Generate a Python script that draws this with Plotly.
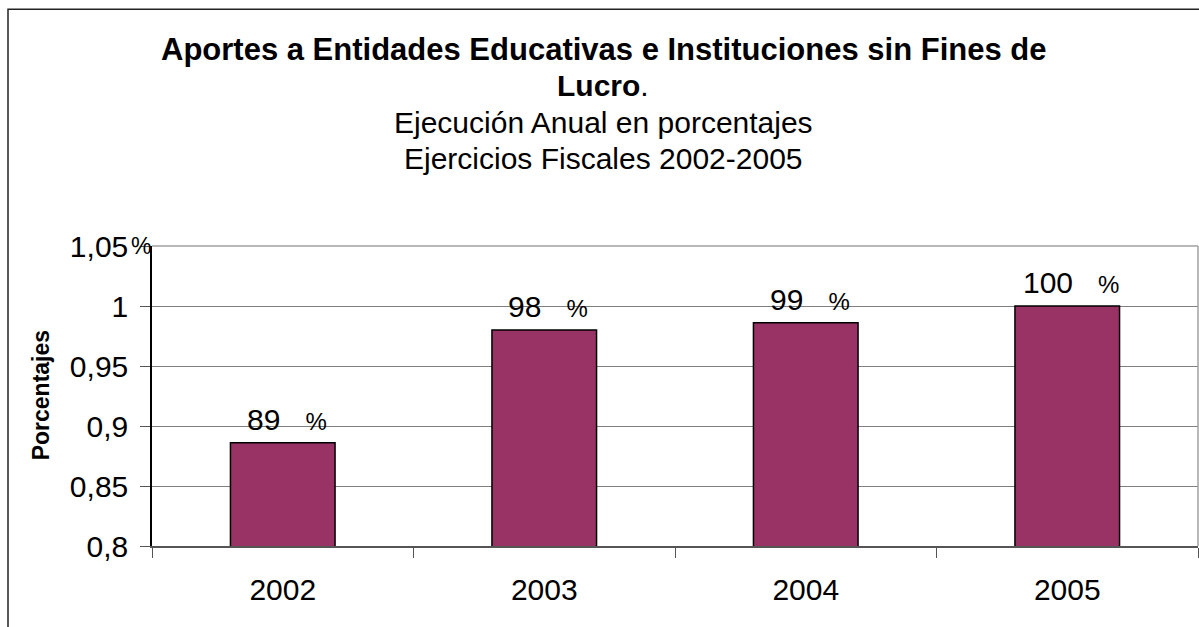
import plotly.graph_objects as go

# Ejecución anual (fracción del crédito ejecutado) por ejercicio fiscal
years = ["2002", "2003", "2004", "2005"]
execution = [0.886, 0.980, 0.986, 1.000]

y_ticks = [0.80, 0.85, 0.90, 0.95, 1.00, 1.05]
y_tick_labels = ["0,8", "0,85", "0,9", "0,95", "1", "1,05"]

title_lines = [
    "<b>Aportes a Entidades Educativas e Instituciones sin Fines de</b>",
    "<b>Lucro</b>.",
    "Ejecución Anual en porcentajes",
    "Ejercicios Fiscales 2002-2005",
]

FONT = "Liberation Sans, Arial, sans-serif"
BAR_COLOR = "#993366"
FS = 30

# Plot area in pixels: left edge 152, bottom 546, height 300
PLOT_LEFT, PLOT_W, PLOT_BOTTOM, PLOT_H = 152, 1046, 545.7, 300


def px_x(px):
    return (px - PLOT_LEFT) / PLOT_W


def px_y(py):
    return (PLOT_BOTTOM - py) / PLOT_H


fig = go.Figure(
    go.Bar(
        x=years,
        y=execution,
        width=0.4,
        marker=dict(color=BAR_COLOR, line=dict(color="#000000", width=1.5)),
        hoverinfo="skip",
    )
)

annotations = []
# Título centrado, una anotación por línea
for i, line in enumerate(title_lines):
    annotations.append(dict(
        text=line,
        xref="paper", yref="paper",
        x=px_x(603), y=px_y(49 + i * 36.5),
        xanchor="center", yanchor="middle",
        showarrow=False,
        font=dict(family=FONT, size=31 if i == 0 else FS, color="#000000"),
    ))

# Etiquetas de valor sobre cada barra: porcentaje entero y signo % más pequeño
# (posición x por índice de categoría, ya que los años parecen números)
for idx, v in enumerate(execution):
    annotations.append(dict(
        text=f"{round(v * 100)}&nbsp;&nbsp;&nbsp;<span style='font-size:24px'>%</span>",
        x=idx, y=v,
        xref="x", yref="y",
        xanchor="center", yanchor="bottom",
        yshift=5, xshift=4,
        showarrow=False,
        font=dict(family=FONT, size=FS, color="#000000"),
    ))

annotations += [
    dict(
        text="<b>Porcentajes</b>",
        textangle=-90,
        xref="paper", yref="paper",
        x=px_x(41), y=px_y(395),
        xanchor="center", yanchor="middle",
        showarrow=False,
        font=dict(family=FONT, size=23, color="#000000"),
    ),
    dict(
        text="%",
        xref="paper", yref="y",
        x=px_x(129), y=1.05,
        xanchor="left", yanchor="middle",
        showarrow=False,
        font=dict(family=FONT, size=23, color="#000000"),
    ),
]

fig.update_layout(
    width=1199,
    height=627,
    margin=dict(l=152, r=1, t=246, b=81),
    paper_bgcolor="#ffffff",
    plot_bgcolor="#ffffff",
    showlegend=False,
    font=dict(family=FONT, color="#000000"),
    xaxis=dict(
        type="category",
        range=[-0.5, 3.5],
        showgrid=False,
        showline=True,
        linecolor="#555555",
        linewidth=1.5,
        ticks="outside",
        tickson="boundaries",
        ticklen=10,
        tickcolor="#555555",
        tickwidth=1,
        ticklabelstandoff=16,
        tickfont=dict(family=FONT, size=FS, color="#000000"),
        fixedrange=True,
    ),
    yaxis=dict(
        range=[0.8, 1.05],
        tickvals=y_ticks,
        ticktext=y_tick_labels,
        showgrid=True,
        gridcolor="#7f7f7f",
        gridwidth=1.2,
        zeroline=False,
        showline=True,
        linecolor="#000000",
        linewidth=1.5,
        ticks="outside",
        ticklen=10,
        tickcolor="#555555",
        tickwidth=1,
        ticklabelstandoff=6,
        tickfont=dict(family=FONT, size=FS, color="#000000"),
        fixedrange=True,
    ),
    shapes=[
        # borde del área de trazado (arriba y a la derecha)
        dict(type="line", xref="paper", yref="paper", x0=0, x1=1, y0=1, y1=1,
             line=dict(color="#a0a0a0", width=1.5)),
        dict(type="line", xref="paper", yref="paper", x0=1, x1=1, y0=0, y1=1,
             line=dict(color="#a0a0a0", width=1.5)),
        # marco exterior del gráfico
        dict(type="rect", xref="paper", yref="paper",
             x0=px_x(8), x1=px_x(1260), y0=px_y(700), y1=px_y(9),
             line=dict(color="#222222", width=1.5), fillcolor="rgba(0,0,0,0)",
             layer="below"),
    ],
    annotations=annotations,
)

fig.write_html("out.html")
